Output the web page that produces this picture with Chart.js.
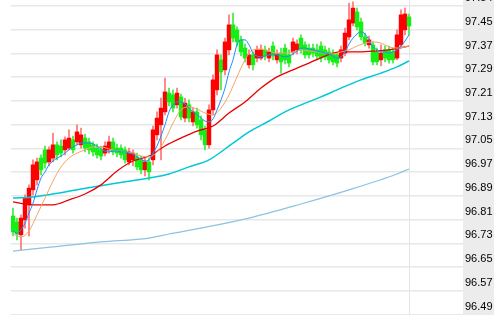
<!DOCTYPE html>
<html><head><meta charset="utf-8">
<script src="https://cdn.jsdelivr.net/npm/chart.js@4/dist/chart.umd.min.js"></script>
<style>html,body{margin:0;padding:0;background:#fff;overflow:hidden}canvas{display:block}</style>
</head><body>
<canvas id="c" width="494" height="315"></canvas>
<script>
// ---- data ----
const candleOpen = [96.821, 96.801, 96.757, 96.808, 96.859, 96.910, 96.944, 97.018, 97.046, 97.005,
 97.018, 97.063, 97.059, 97.046, 97.052, 97.080, 97.073, 97.063, 97.086, 97.073,
 97.063, 97.052, 97.046, 97.035, 97.046, 97.073, 97.052, 97.052, 97.046, 97.005,
 97.012, 97.022, 97.012, 96.978, 97.005, 97.012, 97.097, 97.131, 97.175, 97.239,
 97.233, 97.199, 97.226, 97.154, 97.199, 97.141, 97.175, 97.148, 97.114, 97.063,
 97.182, 97.250, 97.352, 97.318, 97.386, 97.471, 97.454, 97.420, 97.392, 97.335,
 97.369, 97.358, 97.358, 97.386, 97.358, 97.399, 97.352, 97.375, 97.392, 97.369,
 97.379, 97.386, 97.426, 97.403, 97.392, 97.392, 97.386, 97.399, 97.386, 97.379,
 97.372, 97.369, 97.358, 97.375, 97.430, 97.477, 97.515, 97.481, 97.430, 97.403,
 97.403, 97.379, 97.352, 97.386, 97.386, 97.379, 97.358, 97.403, 97.454, 97.498];
const candleHigh = [96.848, 96.814, 96.825, 96.893, 96.927, 97.012, 97.018, 97.029, 97.059, 97.056,
 97.103, 97.073, 97.080, 97.090, 97.114, 97.093, 97.131, 97.120, 97.100, 97.086,
 97.073, 97.066, 97.059, 97.073, 97.093, 97.086, 97.066, 97.063, 97.056, 97.052,
 97.046, 97.035, 97.025, 97.018, 97.018, 97.127, 97.175, 97.222, 97.290, 97.256,
 97.250, 97.256, 97.236, 97.222, 97.216, 97.188, 97.188, 97.161, 97.127, 97.199,
 97.301, 97.386, 97.369, 97.426, 97.505, 97.511, 97.464, 97.433, 97.406, 97.386,
 97.379, 97.399, 97.403, 97.399, 97.392, 97.413, 97.386, 97.392, 97.406, 97.386,
 97.426, 97.420, 97.437, 97.413, 97.406, 97.406, 97.406, 97.413, 97.399, 97.392,
 97.386, 97.379, 97.399, 97.460, 97.545, 97.549, 97.528, 97.494, 97.443, 97.433,
 97.413, 97.392, 97.403, 97.399, 97.399, 97.392, 97.454, 97.522, 97.528, 97.508];
const candleLow = [96.753, 96.740, 96.706, 96.780, 96.753, 96.893, 96.927, 96.961, 96.984, 96.991,
 97.005, 97.012, 97.022, 97.029, 97.046, 97.035, 97.063, 97.052, 97.039, 97.032,
 97.025, 97.018, 97.012, 97.025, 97.035, 97.029, 97.022, 97.018, 97.001, 96.995,
 96.991, 96.978, 96.964, 96.957, 96.944, 96.995, 97.080, 97.012, 97.165, 97.195,
 97.175, 97.188, 97.148, 97.141, 97.141, 97.127, 97.120, 97.080, 97.046, 97.052,
 97.165, 97.233, 97.250, 97.301, 97.369, 97.413, 97.399, 97.365, 97.345, 97.324,
 97.318, 97.345, 97.352, 97.352, 97.345, 97.352, 97.341, 97.307, 97.338, 97.328,
 97.369, 97.372, 97.375, 97.358, 97.358, 97.362, 97.352, 97.345, 97.352, 97.341,
 97.335, 97.328, 97.345, 97.365, 97.420, 97.467, 97.454, 97.420, 97.399, 97.392,
 97.335, 97.335, 97.331, 97.345, 97.341, 97.341, 97.352, 97.392, 97.437, 97.437];
const candleClose = [96.767, 96.760, 96.814, 96.882, 96.916, 96.995, 97.005, 96.978, 97.001, 97.046,
 97.063, 97.029, 97.035, 97.080, 97.086, 97.046, 97.107, 97.097, 97.052, 97.046,
 97.039, 97.029, 97.025, 97.059, 97.073, 97.039, 97.035, 97.029, 97.012, 97.039,
 97.035, 96.988, 96.978, 97.005, 96.971, 97.114, 97.154, 97.188, 97.243, 97.209,
 97.188, 97.239, 97.158, 97.205, 97.154, 97.175, 97.131, 97.097, 97.063, 97.182,
 97.284, 97.369, 97.311, 97.413, 97.471, 97.426, 97.413, 97.379, 97.358, 97.369,
 97.335, 97.386, 97.386, 97.365, 97.379, 97.365, 97.372, 97.345, 97.352, 97.341,
 97.413, 97.406, 97.386, 97.369, 97.369, 97.375, 97.365, 97.358, 97.362, 97.352,
 97.345, 97.341, 97.386, 97.443, 97.488, 97.528, 97.464, 97.430, 97.409, 97.420,
 97.345, 97.345, 97.375, 97.358, 97.352, 97.352, 97.437, 97.505, 97.508, 97.467];

// moving-average lines, one value per candle
const maFast = [96.770, 96.763, 96.774, 96.797, 96.831, 96.865, 96.910, 96.950, 96.971, 96.995,
 97.008, 97.018, 97.025, 97.035, 97.046, 97.056, 97.063, 97.069, 97.069, 97.069,
 97.066, 97.059, 97.049, 97.042, 97.039, 97.042, 97.042, 97.039, 97.039, 97.035,
 97.032, 97.022, 97.015, 97.008, 97.012, 97.035, 97.059, 97.093, 97.131, 97.175,
 97.199, 97.209, 97.209, 97.202, 97.188, 97.175, 97.165, 97.154, 97.144, 97.141,
 97.151, 97.182, 97.216, 97.256, 97.311, 97.352, 97.403, 97.420, 97.420, 97.403,
 97.375, 97.365, 97.362, 97.365, 97.369, 97.372, 97.369, 97.365, 97.362, 97.365,
 97.372, 97.382, 97.392, 97.392, 97.389, 97.386, 97.382, 97.379, 97.375, 97.372,
 97.365, 97.358, 97.362, 97.379, 97.406, 97.426, 97.440, 97.447, 97.440, 97.420,
 97.396, 97.386, 97.379, 97.379, 97.375, 97.379, 97.386, 97.399, 97.416, 97.437];
// [candle index, value] pairs
const maMid = [[0,96.760],[2,96.750],[4,96.770],[6,96.825],[8,96.882],[10,96.940],[12,96.988],[14,97.018],
 [16,97.035],[18,97.046],[20,97.056],[22,97.056],[24,97.049],[26,97.042],[28,97.039],[30,97.035],
 [32,97.025],[34,97.022],[36,97.039],[38,97.080],[40,97.137],[42,97.182],[44,97.192],[46,97.185],
 [48,97.171],[50,97.165],[52,97.188],[54,97.233],[56,97.294],[58,97.352],[60,97.386],[62,97.389],
 [64,97.382],[66,97.375],[68,97.375],[70,97.379],[72,97.386],[74,97.382],[76,97.379],[78,97.375],
 [80,97.372],[82,97.379],[84,97.386],[86,97.399],[88,97.409],[90,97.413],[92,97.409],[94,97.396],
 [96,97.392],[98,97.396],[99,97.399]];
const maRed = [[0,96.869],[5,96.859],[10,96.859],[14,96.876],[18,96.896],[22,96.927],[26,96.974],[30,97.008],
 [34,97.025],[38,97.059],[42,97.086],[46,97.110],[50,97.127],[54,97.171],[58,97.209],[62,97.256],
 [66,97.294],[70,97.318],[74,97.341],[78,97.365],[82,97.379],[86,97.379],[90,97.382],[94,97.386],[99,97.399]];
const maCyan = [[0,96.882],[5,96.886],[10,96.896],[17,96.913],[26,96.933],[34,96.950],[39,96.964],[44,96.988],
 [49,97.012],[55,97.069],[59,97.107],[64,97.144],[68,97.175],[72,97.199],[77,97.226],[82,97.256],
 [87,97.284],[92,97.307],[96,97.328],[99,97.348]];
const maLong = [[0,96.702],[10,96.716],[22,96.733],[34,96.746],[39,96.760],[47,96.780],[59,96.814],
 [72,96.862],[84,96.910],[96,96.964],[99,96.981]];

const yTickLabels = ['96.49','96.57','96.65','96.73','96.81','96.89','96.97','97.05','97.13','97.21','97.29','97.37','97.45','97.54'];
const yTickBase = 96.486, yTickStep = 0.0807;
const yMin = 96.4845, yMax = 97.5555;
const slotCount = 113;

// ---- chart ----
const idx = candleOpen.map((_, i) => i);
const isUp = idx.map(i => candleClose[i] >= candleOpen[i]);
const bodyColors = isUp.map(u => u ? '#ff0000' : '#14f014');
const wickColors = isUp.map(u => u ? '#ff7373' : '#3cec3c');

const lineDs = (data, color, width) => ({
  type: 'line', data, borderColor: color, borderWidth: width, pointRadius: 0,
  fill: false, spanGaps: true, cubicInterpolationMode: 'monotone'
});

const panelBg = {
  id: 'panelBg',
  beforeDraw(chart) {
    const {ctx, chartArea, width, height} = chart;
    ctx.save();
    ctx.fillStyle = '#ffffff';
    ctx.fillRect(0, 0, width, height);
    ctx.fillStyle = '#ececec';
    ctx.fillRect(chartArea.right, 0, width - chartArea.right, height);
    ctx.restore();
  }
};

new Chart(document.getElementById('c'), {
  type: 'bar',
  data: {
    datasets: [
      lineDs(maFast.map((v, i) => ({x: i, y: v})), '#1e8fff', 1),
      lineDs(maMid.map(([x, y]) => ({x, y})), '#f2a66a', 1),
      lineDs(maRed.map(([x, y]) => ({x, y})), '#e80000', 1.3),
      lineDs(maCyan.map(([x, y]) => ({x, y})), '#00c8d8', 1.5),
      lineDs(maLong.map(([x, y]) => ({x, y})), '#8cc2e2', 1.2),
      {
        type: 'bar', grouped: false, barThickness: 3.8, borderWidth: 0,
        data: idx.map(i => ({x: i, y: [candleOpen[i], candleClose[i]]})),
        backgroundColor: bodyColors
      },
      {
        type: 'bar', grouped: false, barThickness: 1, borderWidth: 0,
        data: idx.map(i => ({x: i, y: [candleLow[i], candleHigh[i]]})),
        backgroundColor: wickColors
      }
    ]
  },
  options: {
    responsive: false, animation: false, devicePixelRatio: 1,
    layout: {padding: {left: 11, right: 0, top: 0, bottom: 0}},
    plugins: {legend: {display: false}, tooltip: {enabled: false}},
    scales: {
      x: {
        type: 'linear', min: -0.5, max: slotCount - 0.5, offset: false,
        ticks: {display: false},
        grid: {drawTicks: false, offset: false, color: '#e4e4e4', lineWidth: 1},
        border: {display: false},
        afterBuildTicks: s => { s.ticks = [{value: candleOpen.length - 1}]; },
        afterFit: s => { s.height = 0; s.paddingLeft = 0; s.paddingRight = 0; s.paddingTop = 0; s.paddingBottom = 0; }
      },
      y: {
        position: 'right', min: yMin, max: yMax,
        afterBuildTicks: s => { s.ticks = yTickLabels.map((_, k) => ({value: yTickBase + k * yTickStep})); },
        afterFit: s => { s.width = 31; s.paddingTop = 0; s.paddingBottom = 0; },
        grid: {drawTicks: false, color: '#e8e8e8', lineWidth: 1.5},
        border: {display: false},
        ticks: {
          autoSkip: false, padding: 2, labelOffset: -8, color: '#000',
          font: {family: 'Liberation Sans', size: 11},
          callback: (v, i) => yTickLabels[i]
        }
      }
    }
  },
  plugins: [panelBg]
});
</script>
</body></html>
